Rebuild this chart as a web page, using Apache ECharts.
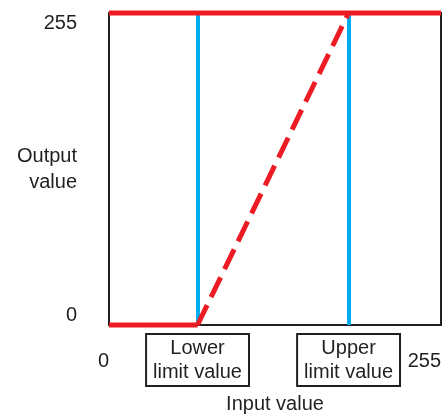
<!DOCTYPE html>
<html>
<head>
<meta charset="utf-8">
<script src="https://cdn.jsdelivr.net/npm/echarts@6/dist/echarts.min.js"></script>
<style>
  html, body { margin: 0; padding: 0; background: #fff; }
  #chart { width: 448px; height: 414px; }
</style>
</head>
<body>
<div id="chart"></div>
<script>
// axis range
var inputRange = [0, 255];
var outputRange = [0, 255];
// limits
var limitValues = [68, 184];
var limitNames = ['Lower\nlimit value', 'Upper\nlimit value'];
// transfer curve pieces
var lowFlat = [[0, 0], [68, 0]];
var ramp = [[68, 0], [184, 255]];
var topFlat = [[0, 255], [255, 255]];

var red = '#ed1c24';
var blue = '#00aeef';
var ink = '#231f20';
var font = 'Liberation Sans, Arial, sans-serif';

var chart = echarts.init(document.getElementById('chart'));

var option = {
    backgroundColor: '#fff',
    animation: false,
    grid: {
        left: 109, right: 7, top: 13, bottom: 89,
        outerBoundsMode: 'none',
        containLabel: false,
        show: true,
        borderColor: ink,
        borderWidth: 2,
        backgroundColor: 'transparent'
    },
    xAxis: {
        type: 'value',
        min: inputRange[0],
        max: inputRange[1],
        interval: 255,
        name: 'Input value',
        nameLocation: 'middle',
        nameGap: 69,
        nameMoveOverlap: false,
        nameTextStyle: { fontSize: 20, color: ink, fontFamily: font },
        axisLine: { show: false },
        axisTick: { show: false },
        splitLine: { show: false },
        axisLabel: {
            fontSize: 20, color: ink, fontFamily: font, margin: 26,
            alignMinLabel: 'right',
            alignMaxLabel: 'right'
        }
    },
    yAxis: {
        type: 'value',
        min: outputRange[0],
        max: outputRange[1],
        interval: 255,
        name: 'Output\nvalue',
        nameLocation: 'middle',
        nameRotate: 0,
        nameGap: 32,
        nameMoveOverlap: false,
        nameTextStyle: { fontSize: 20, color: ink, fontFamily: font, lineHeight: 26, align: 'right' },
        axisLine: { show: false },
        axisTick: { show: false },
        splitLine: { show: false },
        axisLabel: {
            fontSize: 20, color: ink, fontFamily: font, margin: 32,
            verticalAlignMinLabel: 'bottom',
            verticalAlignMaxLabel: 'top'
        }
    },
    series: [
        {
            type: 'line',
            data: [],
            z: 2,
            markLine: {
                silent: true,
                symbol: 'none',
                lineStyle: { color: blue, width: 4, type: 'solid' },
                label: {
                    position: 'start',
                    distance: 10,
                    formatter: function (p) { return p.name; },
                    fontSize: 20,
                    lineHeight: 24,
                    color: ink,
                    fontFamily: font,
                    backgroundColor: '#fff',
                    borderColor: ink,
                    borderWidth: 2,
                    padding: [1, 6, 1, 6]
                },
                data: limitValues.map(function (v, i) {
                    return { xAxis: v, name: limitNames[i] };
                })
            }
        },
        {
            type: 'line', data: lowFlat, showSymbol: false, clip: false, z: 5,
            lineStyle: { color: red, width: 5 }
        },
        {
            type: 'line', data: ramp, showSymbol: false, clip: false, z: 5,
            lineStyle: { color: red, width: 5, type: [22, 9] }
        },
        {
            type: 'line', data: topFlat, showSymbol: false, clip: false, z: 5,
            lineStyle: { color: red, width: 5 }
        }
    ]
};
chart.setOption(option);
</script>
</body>
</html>
